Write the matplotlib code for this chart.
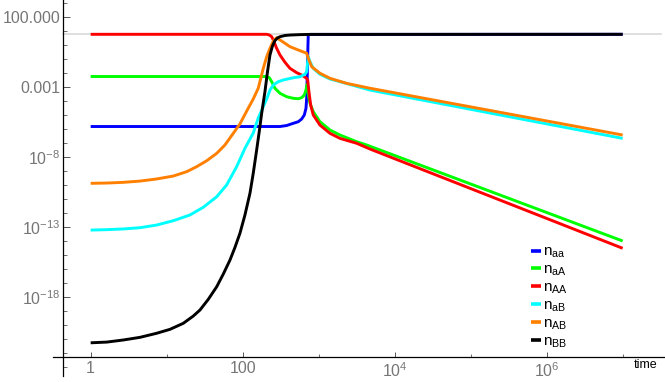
import numpy as np
import matplotlib
matplotlib.use("Agg")
import matplotlib.pyplot as plt
from matplotlib.ticker import FixedLocator, FixedFormatter, NullFormatter

plt.rcParams['font.family'] = ['Liberation Sans', 'DejaVu Sans']
plt.rcParams['mathtext.fontset'] = 'custom'
plt.rcParams['mathtext.rm'] = 'Liberation Sans'
plt.rcParams['mathtext.default'] = 'regular'

# %%
# Data (log10 of time, log10 of n)
# ------------------------------------------
lt_aa = [0, 2.491, 2.579, 2.666, 2.732, 2.776, 2.811, 2.833, 2.842, 2.850, 2.859, 2.863, 2.886, 7.0]
ln_aa = [-5.843, -5.843, -5.771, -5.614, -5.5, -5.307, -5.021, -4.543, -3.829, -2.164, -0.021, 0.693, 0.736, 0.743]

lt_aA = [0, 2.316, 2.351, 2.382, 2.425, 2.491, 2.579, 2.666, 2.732, 2.776, 2.811, 2.833, 2.846, 2.855,
         2.868, 2.886, 2.929, 3.017, 3.149, 3.280, 3.500, 3.632, 7.0]
ln_aA = [-2.271, -2.271, -2.357, -2.643, -3.114, -3.471, -3.714, -3.829, -3.857, -3.786, -3.593, -3.236, -2.829, -2.879,
         -3.714, -4.186, -4.786, -5.5, -6.093, -6.45, -6.929, -7.164, -14.02]

lt_AA = [0, 2.316, 2.351, 2.382, 2.403, 2.447, 2.491, 2.557, 2.622, 2.711, 2.776, 2.842, 2.855, 2.872,
         2.895, 2.929, 3.017, 3.149, 3.280, 3.500, 3.675, 7.0]
ln_AA = [0.743, 0.743, 0.693, 0.571, 0.336, -0.257, -0.736, -1.257, -1.686, -2.0, -2.164, -2.40, -2.52, -3.36,
         -4.31, -5.02, -5.74, -6.33, -6.69, -7.04, -7.45, -14.54]

lt_aB = [0, 0.211, 0.429, 0.649, 0.868, 1.087, 1.307, 1.482, 1.658, 1.789, 1.921, 2.030, 2.139, 2.205, 2.316,
         2.359, 2.403, 2.469, 2.534, 2.666, 2.754, 2.820, 2.842, 2.863, 2.886, 2.929, 3.017, 3.149, 3.280, 3.675, 7.0]
ln_aB = [-13.24, -13.21, -13.16, -13.07, -12.88, -12.57, -12.16, -11.61, -10.86, -10.02, -8.71, -7.40, -6.31, -5.24, -3.88,
         -3.24, -2.88, -2.64, -2.52, -2.36, -2.29, -2.11, -1.93, -0.86, -1.21, -1.69, -2.11, -2.45, -2.64, -3.24, -6.69]

lt_AB = [0, 0.211, 0.429, 0.649, 0.868, 1.087, 1.263, 1.395, 1.526, 1.658, 1.767, 1.876, 1.964, 2.053, 2.139, 2.205,
         2.271, 2.316, 2.359, 2.403, 2.447, 2.491, 2.557, 2.622, 2.732, 2.842, 2.863, 2.908, 3.017, 3.149, 3.368, 3.675, 7.0]
ln_AB = [-9.90, -9.88, -9.83, -9.74, -9.59, -9.38, -9.07, -8.71, -8.29, -7.76, -7.16, -6.33, -5.66, -4.74, -3.88, -3.11,
         -1.69, -0.86, -0.26, 0.26, 0.50, 0.34, 0.10, -0.14, -0.38, -0.61, -0.97, -1.57, -2.04, -2.40, -2.76, -3.11, -6.45]

lt_BB = [0, 0.211, 0.429, 0.649, 0.868, 1.043, 1.218, 1.350, 1.438, 1.547, 1.658, 1.745, 1.833, 1.899, 1.964, 2.030,
         2.096, 2.139, 2.184, 2.218, 2.250, 2.293, 2.326, 2.359, 2.392, 2.425, 2.458, 2.491, 2.557, 2.622, 2.754, 2.886, 7.0]
ln_BB = [-21.29, -21.24, -21.09, -20.90, -20.61, -20.33, -19.90, -19.38, -18.95, -18.19, -17.29, -16.38, -15.38, -14.47,
         -13.47, -12.16, -10.61, -9.19, -7.52, -6.21, -4.90, -3.36, -1.95, -0.74, -0.09, 0.30, 0.48, 0.57, 0.66, 0.69,
         0.72, 0.736, 0.743]

total_n = 5.53

labels = [r'$n_{aa}$', r'$n_{aA}$', r'$n_{AA}$', r'$n_{aB}$', r'$n_{AB}$', r'$n_{BB}$']
colors = ['#0000ff', '#00ff00', '#ff0000', '#00ffff', '#ff8000', '#000000']

x_major = [1, 1e2, 1e4, 1e6]
x_major_labels = ['1', '100', r'$10^{4}$', r'$10^{6}$']
x_minor = [1e1, 1e3, 1e5, 1e7]
y_major = [1e2, 1e-3, 1e-8, 1e-13, 1e-18]
y_major_labels = ['100.000', '0.001', r'$10^{-8}$', r'$10^{-13}$', r'$10^{-18}$']
y_minor = [10.0 ** k for k in range(-23, 4) if 10.0 ** k not in y_major]

# %%
# Plot
# ------------------------------------------
fig = plt.figure(figsize=(6.65, 3.82), dpi=100)
ax = fig.add_axes([0, 0, 1, 1])
ax.set_xscale('log')
ax.set_yscale('log')
ax.set_xlim(10 ** -1.193, 10 ** 7.557)
ax.set_ylim(10 ** -24.09, 10 ** 3.193)
ax.patch.set_alpha(0)

ax.plot([10 ** -0.364, 10 ** 7.5], [total_n, total_n], color='#d9d9d9', lw=1.2, zorder=1)

series = [(lt_aa, ln_aa), (lt_aA, ln_aA), (lt_AA, ln_AA), (lt_aB, ln_aB), (lt_AB, ln_AB), (lt_BB, ln_BB)]
for (lt, ln), lab, col in zip(series, labels, colors):
    ax.plot(10 ** np.array(lt), 10 ** np.array(ln), color=col, lw=2.1, label=lab,
            solid_capstyle='butt', solid_joinstyle='round', zorder=2)

# axes crossing like Mathematica
for side in ['top', 'right']:
    ax.spines[side].set_visible(False)
ax.spines['left'].set_position(('data', 10 ** -0.364))
ax.spines['bottom'].set_position(('data', 10 ** -22.29))
ax.spines['left'].set_bounds(10 ** -23.66, 10 ** 3.193)
ax.spines['bottom'].set_bounds(10 ** -0.496, 10 ** 7.557)
for side in ['left', 'bottom']:
    ax.spines[side].set_linewidth(0.9)
    ax.spines[side].set_zorder(3)

ax.xaxis.set_major_locator(FixedLocator(x_major))
ax.xaxis.set_major_formatter(FixedFormatter(x_major_labels))
ax.xaxis.set_minor_locator(FixedLocator(x_minor))
ax.xaxis.set_minor_formatter(NullFormatter())
ax.yaxis.set_major_locator(FixedLocator(y_major))
ax.yaxis.set_major_formatter(FixedFormatter(y_major_labels))
ax.yaxis.set_minor_locator(FixedLocator(y_minor))
ax.yaxis.set_minor_formatter(NullFormatter())

ax.tick_params(axis='both', which='both', direction='in', labelcolor='#767676', labelsize=11.5, color='#555555')
ax.tick_params(axis='x', which='major', length=3.8, width=0.7, pad=3)
ax.tick_params(axis='x', which='minor', length=2.2, width=0.6)
ax.tick_params(axis='y', which='major', length=5, width=0.7, pad=2)
ax.tick_params(axis='y', which='minor', length=3, width=0.6)

ax.text(10 ** 7.15, 10 ** -22.9, 'time', ha='left', va='center', fontsize=9, color='black')

leg = ax.legend(loc='upper left', bbox_to_anchor=(531 / 665, 1 - 245 / 382), bbox_transform=fig.transFigure,
                frameon=False, fontsize=11, handlelength=0.65, handletextpad=0.15,
                labelspacing=0.16, borderaxespad=0, borderpad=0)
for line in leg.get_lines():
    line.set_linewidth(2.6)

fig.savefig('out.png', dpi=100)
